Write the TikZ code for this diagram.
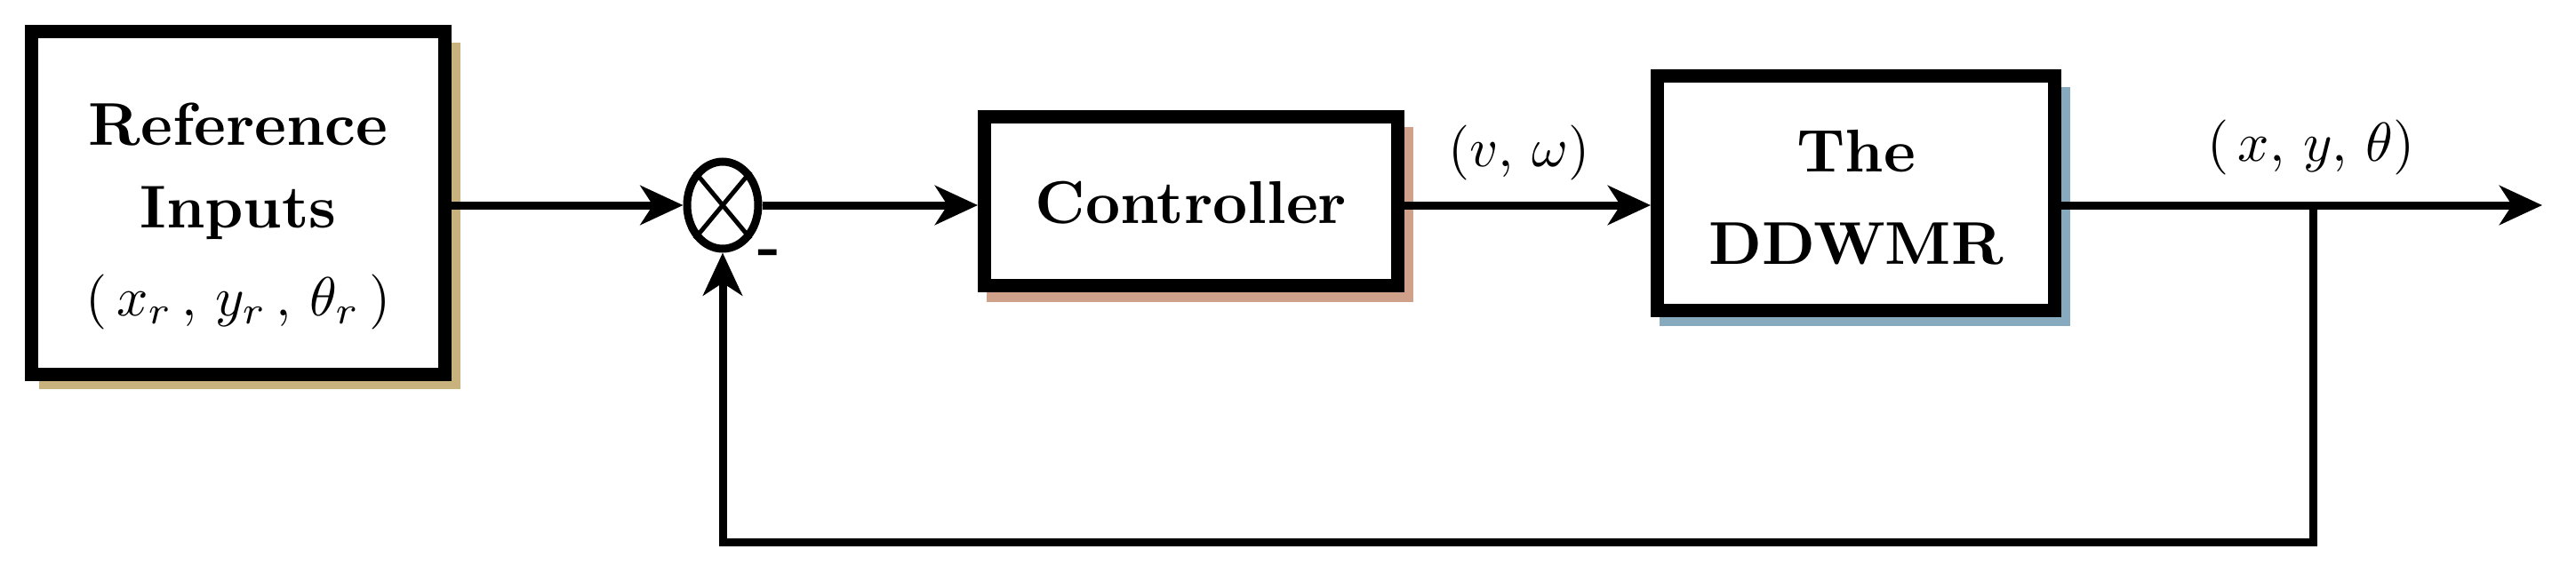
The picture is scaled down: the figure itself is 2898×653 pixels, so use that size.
\documentclass[tikz,border=0pt]{standalone}
\usetikzlibrary{arrows.meta,shapes.geometric}
\definecolor{tan}{HTML}{C8B27E}
\definecolor{salmon}{HTML}{CFA08A}
\definecolor{steel}{HTML}{88AABF}
\tikzset{
  blk/.style={draw=black,line width=15pt,fill=white,inner sep=0pt},
  txt/.style={scale=6.8,transform shape,align=center,font=\bfseries},
  con/.style={line width=9pt,-{Stealth[length=48pt,width=44pt,inset=14pt]}},
  lbl/.style={scale=6.2,transform shape}
}
\begin{document}
\begin{tikzpicture}[x=1pt,y=-1pt]
\useasboundingbox (0,0) rectangle (2898,653);
% shadows
\fill[tan] (44,48) rectangle (518,438);
\fill[salmon] (1110,143) rectangle (1590,340);
\fill[steel] (1867,98) rectangle (2329,367);
% boxes
\node[blk,minimum width=465pt,minimum height=386pt] (ref) at (268,228.5) {};
\node[txt] (reft1) at (268,140) {Reference};
\node[txt] (reft2) at (268,240) {Inputs};
\node[lbl] (refm) at (268,340) {$\left(\,x_r\,,\,y_r\,,\,\theta_r\,\right)$};
\node[draw,line width=9pt,ellipse,minimum width=80pt,minimum height=98pt,inner sep=0pt] (sum) at (813,231) {};
\draw[line width=5pt] (sum.north west) -- (sum.south east) (sum.north east) -- (sum.south west);
\node[blk,minimum width=465pt,minimum height=190pt] (ctl) at (1340,226.5) {};
\node[txt] (ctlt) at (1340,228) {Controller};
\node[blk,minimum width=447pt,minimum height=264pt] (sys) at (2088,217.5) {};
\node[txt] (syst1) at (2088,170) {The};
\node[txt] (syst2) at (2088,275) {DDWMR};
\coordinate (br) at (2602,231);
\coordinate (out) at (2860,231);
\coordinate (bl) at (2602,610);
\coordinate (fl) at (813,610);
\draw[con] (ref.east |- sum.west) -- (sum.west);
\draw[con] (sum.east) -- (ctl.west |- sum.east);
\draw[con] (ctl.east |- br) -- (sys.west |- br);
\draw[con] (sys.east |- br) -- (out);
\draw[con] (br) -- (bl) -- (fl) -- (sum.south);
\node[lbl] (l1) at (1709,172) {$\left(v,\,\omega\right)$};
\node[lbl] (l2) at (2600,166) {$\left(\,x,\,y,\,\theta\right)$};
\node[txt] (minus) at (866,290) {-};
\end{tikzpicture}
\end{document}
